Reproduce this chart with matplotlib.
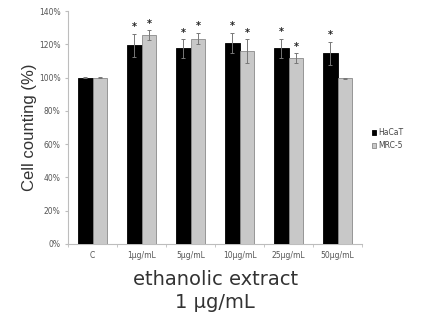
import numpy as np
import matplotlib
matplotlib.use("Agg")
import matplotlib.pyplot as plt

# data
categories = ["C", "1µg/mL", "5µg/mL", "10µg/mL", "25µg/mL", "50µg/mL"]
hacat = [100, 119.5, 117.5, 121, 117.5, 114.5]
hacat_err = [0.5, 7, 5.5, 6, 6, 7]
mrc5 = [100, 125.5, 123.5, 116, 111.5, 99.5]
mrc5_err = [0.3, 3, 3.5, 7, 3, 0.5]
hacat_sig = [False, True, True, True, True, True]
mrc5_sig = [False, True, True, True, True, False]
yticks = [0, 20, 40, 60, 80, 100, 120, 140]

AXIS_GREY = "#bdbdbd"
TEXT_GREY = "#555555"

fig = plt.figure(figsize=(4.28, 3.26), dpi=100)
ax = fig.add_axes([0.159, 0.252, 0.687, 0.714])

x = np.arange(len(categories))
w = 0.3
ax.bar(x - w / 2, hacat, w, color="black", edgecolor="black", lw=0.6,
       yerr=hacat_err, error_kw=dict(ecolor="#777777", elinewidth=0.7,
                                     capsize=1.5, capthick=0.7),
       label="HaCaT", zorder=3)
ax.bar(x + w / 2, mrc5, w, color="#c8c8c8", edgecolor="#8a8a8a", lw=0.6,
       yerr=mrc5_err, error_kw=dict(ecolor="#777777", elinewidth=0.7,
                                    capsize=1.5, capthick=0.7),
       label="MRC-5", zorder=3)

# significance stars
for xi, v, e, s in zip(x - w / 2, hacat, hacat_err, hacat_sig):
    if s:
        ax.text(xi, v + e + 1.0, "*", ha="center", va="bottom",
                fontsize=7, fontweight="bold", color="#222222")
for xi, v, e, s in zip(x + w / 2, mrc5, mrc5_err, mrc5_sig):
    if s:
        ax.text(xi, v + e + 1.0, "*", ha="center", va="bottom",
                fontsize=7, fontweight="bold", color="#222222")

ax.set_xlim(-0.5, len(categories) - 0.5)
ax.set_ylim(0, 140)
ax.set_yticks(yticks)
ax.set_yticklabels([f"{t}%" for t in yticks])
ax.set_xticks(x)
ax.set_xticklabels(categories)
ax.set_xticks(np.arange(-0.5, len(categories), 1.0), minor=True)
ax.tick_params(axis="x", which="major", length=0, labelsize=5.5,
               labelcolor=TEXT_GREY, pad=5)
ax.tick_params(axis="x", which="minor", length=2.5, color=AXIS_GREY)
ax.tick_params(axis="y", length=2.5, color=AXIS_GREY, labelsize=5.5,
               labelcolor=TEXT_GREY, pad=3)

for side in ["top", "right"]:
    ax.spines[side].set_visible(False)
for side in ["left", "bottom"]:
    ax.spines[side].set_color(AXIS_GREY)
    ax.spines[side].set_linewidth(0.8)

ax.set_ylabel("Cell counting (%)", fontsize=12, family="Liberation Sans",
              color="#333333", labelpad=1)
ax.set_xlabel("ethanolic extract\n1 µg/mL", fontsize=14, color="#333333",
              labelpad=7, linespacing=1.3)

leg = ax.legend(loc="center left", bbox_to_anchor=(1.02, 0.45), frameon=False,
                fontsize=5.5, handlelength=0.6, handleheight=0.6,
                handletextpad=0.3, labelspacing=0.5, borderpad=0)
for t in leg.get_texts():
    t.set_color("#444444")

fig.savefig("out.png", dpi=100)
